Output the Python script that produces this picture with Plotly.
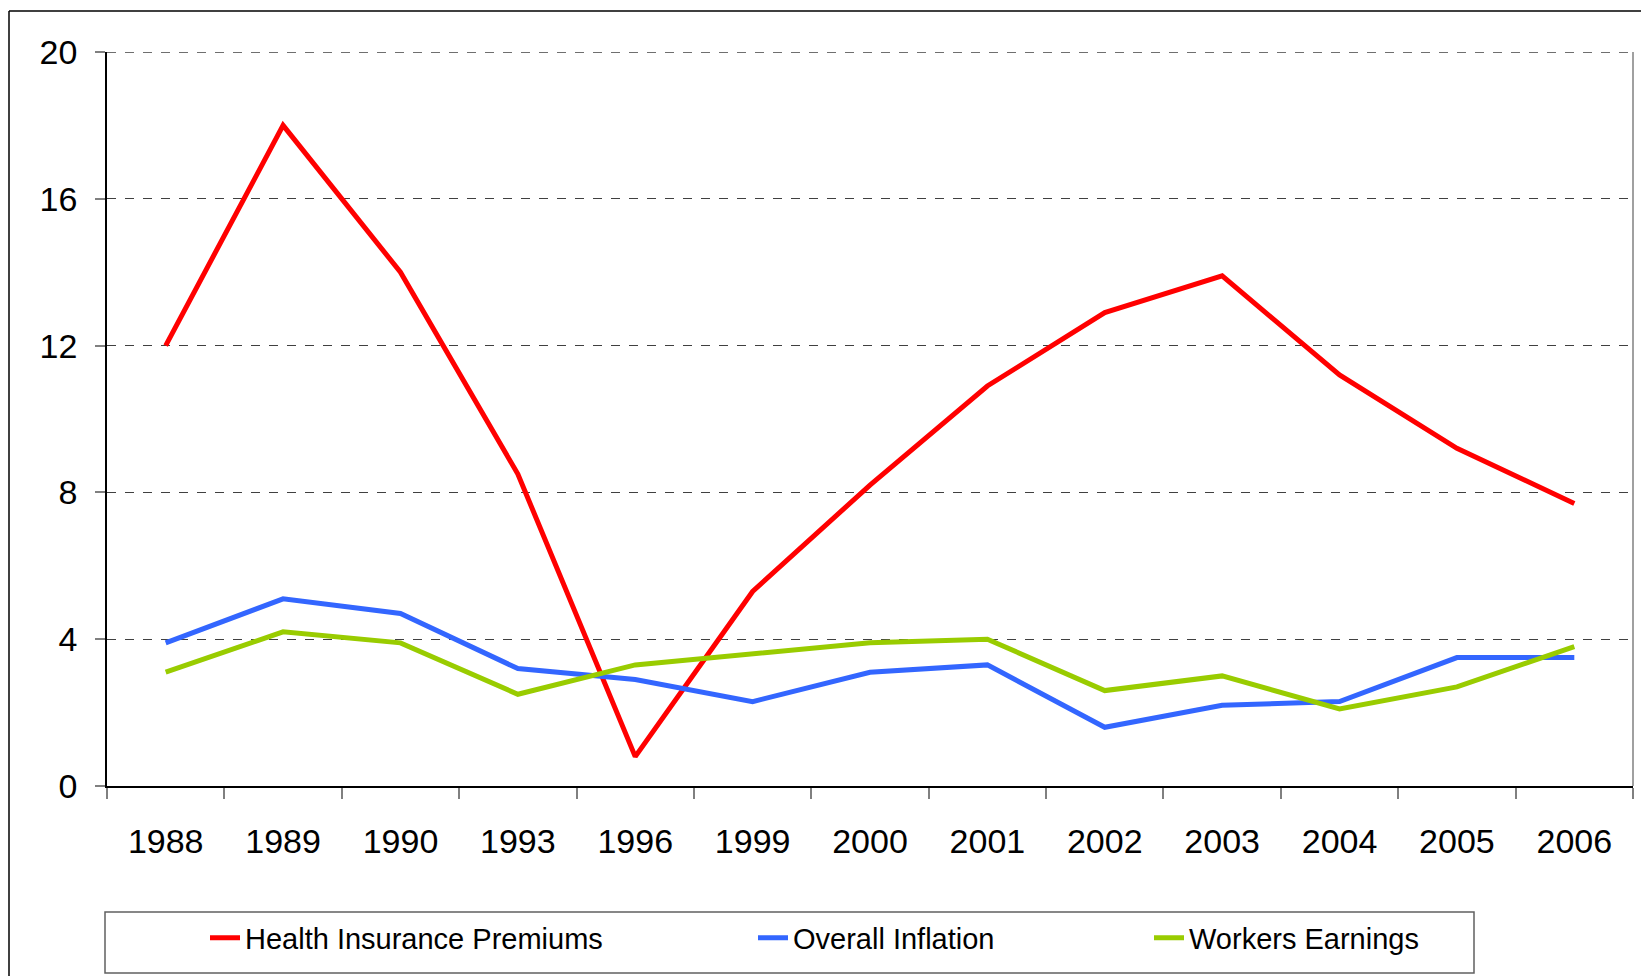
import plotly.graph_objects as go

years = ["1988", "1989", "1990", "1993", "1996", "1999", "2000", "2001",
         "2002", "2003", "2004", "2005", "2006"]
health_premiums = [12.0, 18.0, 14.0, 8.5, 0.8, 5.3, 8.2, 10.9, 12.9, 13.9, 11.2, 9.2, 7.7]
overall_inflation = [3.9, 5.1, 4.7, 3.2, 2.9, 2.3, 3.1, 3.3, 1.6, 2.2, 2.3, 3.5, 3.5]
workers_earnings = [3.1, 4.2, 3.9, 2.5, 3.3, 3.6, 3.9, 4.0, 2.6, 3.0, 2.1, 2.7, 3.8]
series_names = ["Health Insurance Premiums", "Overall Inflation", "Workers Earnings"]
series_colors = ["#FF0000", "#3366FF", "#99CC00"]
Y_MAX = 20
Y_STEP = 4

W, H = 1641, 976
L, R, T, B = 107, 1633, 52, 786
PW, PH = R - L, B - T


def px(x):
    return (x - L) / PW


def py(y):
    return (B - y) / PH


FONT = "Liberation Sans, Arial, sans-serif"

fig = go.Figure()
for i, (name, vals, col) in enumerate(zip(series_names,
                                          [health_premiums, overall_inflation, workers_earnings],
                                          series_colors)):
    fig.add_trace(go.Scatter(
        x=years, y=vals, mode="lines", name=name,
        line=dict(color=col, width=5),
        legend="legend" if i == 0 else f"legend{i+1}",
    ))

legend_text_x = [245, 793, 1189]
legend_common = dict(orientation="h", xanchor="left", yanchor="middle",
                     y=py(938), bgcolor="rgba(0,0,0,0)",
                     font=dict(family=FONT, size=29, color="black"))
legends = {}
for i, tx in enumerate(legend_text_x):
    key = "legend" if i == 0 else f"legend{i+1}"
    legends[key] = dict(legend_common, x=px(tx - 40))

fig.update_layout(
    template="none",
    width=W, height=H,
    margin=dict(l=L, r=W - R, t=T, b=H - B, autoexpand=False),
    paper_bgcolor="white", plot_bgcolor="white",
    showlegend=True,
    **legends,
    xaxis=dict(
        type="category", range=[-0.5, len(years) - 0.5], automargin=False,
        tickson="boundaries", ticks="outside", ticklen=11, tickwidth=1.5,
        tickcolor="#808080", showgrid=False, showline=True, linecolor="black",
        linewidth=1.5, tickfont=dict(family=FONT, size=34, color="black"),
        ticklabelstandoff=24, zeroline=False,
    ),
    yaxis=dict(
        range=[0, Y_MAX], dtick=Y_STEP, ticks="outside", ticklen=10, tickwidth=1.5,
        tickcolor="#808080", showline=True, linecolor="black", linewidth=1.5,
        showgrid=True, gridcolor="#404040", griddash="dash", gridwidth=1,
        zeroline=False, tickfont=dict(family=FONT, size=34, color="black"),
        ticklabelstandoff=11, automargin=False,
    ),
    shapes=[
        # top gridline at the axis maximum (dashed, like the other gridlines)
        dict(type="line", xref="paper", yref="y", x0=0, x1=1, y0=Y_MAX, y1=Y_MAX,
             line=dict(color="#404040", width=1.5, dash="dash")),
        # right border of plot area
        dict(type="line", xref="paper", yref="paper", x0=1, x1=1, y0=0, y1=1,
             line=dict(color="#808080", width=1.5)),
        # outer chart frame (left and top edges)
        dict(type="line", xref="paper", yref="paper", x0=px(9), x1=px(9),
             y0=py(H + 5), y1=py(11), line=dict(color="black", width=1.5)),
        dict(type="line", xref="paper", yref="paper", x0=px(9), x1=px(W + 5),
             y0=py(11), y1=py(11), line=dict(color="black", width=1.5)),
        # legend box
        dict(type="rect", xref="paper", yref="paper", x0=px(105), x1=px(1474),
             y0=py(973), y1=py(912), line=dict(color="#606060", width=1.5),
             fillcolor="rgba(0,0,0,0)"),
    ],
)

fig.write_html(
    "out.html",
    config={"displayModeBar": False},
    post_script="document.body.style.margin='0';document.body.style.overflow='hidden';"
                "document.documentElement.style.overflow='hidden';",
)
